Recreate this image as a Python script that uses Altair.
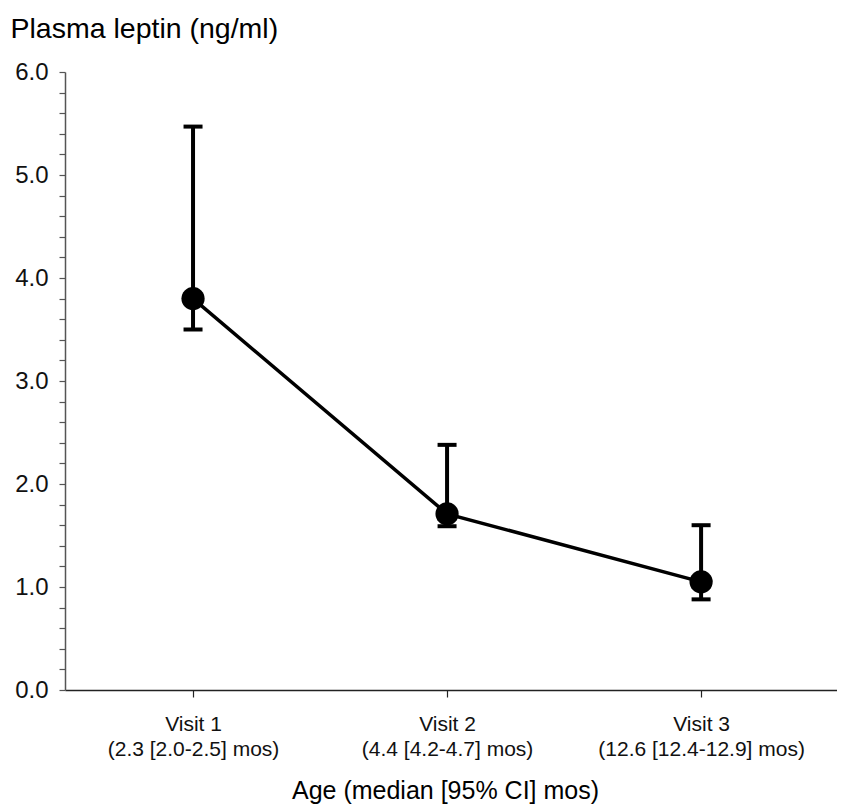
import altair as alt
import pandas as pd
import json

# ---- data ----
visits = ["Visit 1", "Visit 2", "Visit 3"]
ages = ["(2.3 [2.0-2.5] mos)", "(4.4 [4.2-4.7] mos)", "(12.6 [12.4-12.9] mos)"]
pos = [1, 2, 3]
leptin = [3.80, 1.71, 1.05]
upper = [5.47, 2.38, 1.60]
lower = [3.50, 1.59, 0.88]

df = pd.DataFrame({"pos": pos, "visit": visits, "age": ages,
                   "leptin": leptin, "upper": upper, "lower": lower})

label_lines = [[v, a] for v, a in zip(visits, ages)]
label_expr = json.dumps(label_lines) + "[datum.value - 1]"

y_values = [round(i * 0.2, 1) for i in range(31)]

FONT = "Liberation Sans"

x_enc = alt.X("pos:Q",
              scale=alt.Scale(domain=[0.496, 3.535], nice=False, zero=False),
              axis=alt.Axis(values=pos, labelExpr=label_expr, title="Age (median [95% CI] mos)",
                            grid=False, tickSize=7, tickColor="#222", tickWidth=1.2,
                            domainColor="#222", domainWidth=1.3,
                            labelFont=FONT, labelFontSize=21, labelColor="#111",
                            labelPadding=16, labelLineHeight=25, labelBaseline="top",
                            labelLimit=500,
                            titleFont=FONT, titleFontSize=25, titleFontWeight="normal",
                            titleColor="#000", titleX=380, titleY=100,
                            titleBaseline="middle", titleAlign="center"))

y_axis = alt.Axis(values=y_values, tickCount=100,
                  labelExpr="abs(datum.value - round(datum.value)) < 0.01 ? format(datum.value, '.1f') : ''",
                  title="Plasma leptin (ng/ml)", grid=False,
                  tickSize=6, tickColor="#555", tickWidth=1.2,
                  domainColor="#555", domainWidth=1.5,
                  labelFont=FONT, labelFontSize=24, labelColor="#111", labelPadding=11,
                  titleFont=FONT, titleFontSize=28.5, titleFontWeight="normal", titleColor="#000",
                  titleAngle=0, titleX=-55, titleY=-44, titleAlign="left", titleBaseline="middle",
                  labelOverlap=False)

y_scale = alt.Scale(domain=[0, 6], nice=False)

base = alt.Chart(df)

rules = base.mark_rule(color="black", strokeWidth=4).encode(
    x=x_enc,
    y=alt.Y("lower:Q", scale=y_scale, axis=y_axis),
    y2="upper:Q",
)
cap_hi = base.mark_tick(color="black", size=19, thickness=4, orient="horizontal", opacity=1).encode(
    x="pos:Q", y="upper:Q")
cap_lo = base.mark_tick(color="black", size=19, thickness=4, orient="horizontal", opacity=1).encode(
    x="pos:Q", y="lower:Q")
line = base.mark_line(color="black", strokeWidth=3.5).encode(
    x="pos:Q", y="leptin:Q")
points = base.mark_circle(color="black", opacity=1, size=540).encode(
    x="pos:Q", y="leptin:Q")

chart = alt.layer(rules, cap_hi, cap_lo, line, points).properties(
    width=772, height=618,
    padding={"left": 57, "top": 64, "right": 0, "bottom": 118},
    autosize=alt.AutoSizeParams(type="none"),
    background="white",
).configure_view(stroke=None)

chart.save("out.html", embed_options={"renderer": "svg", "actions": False})
